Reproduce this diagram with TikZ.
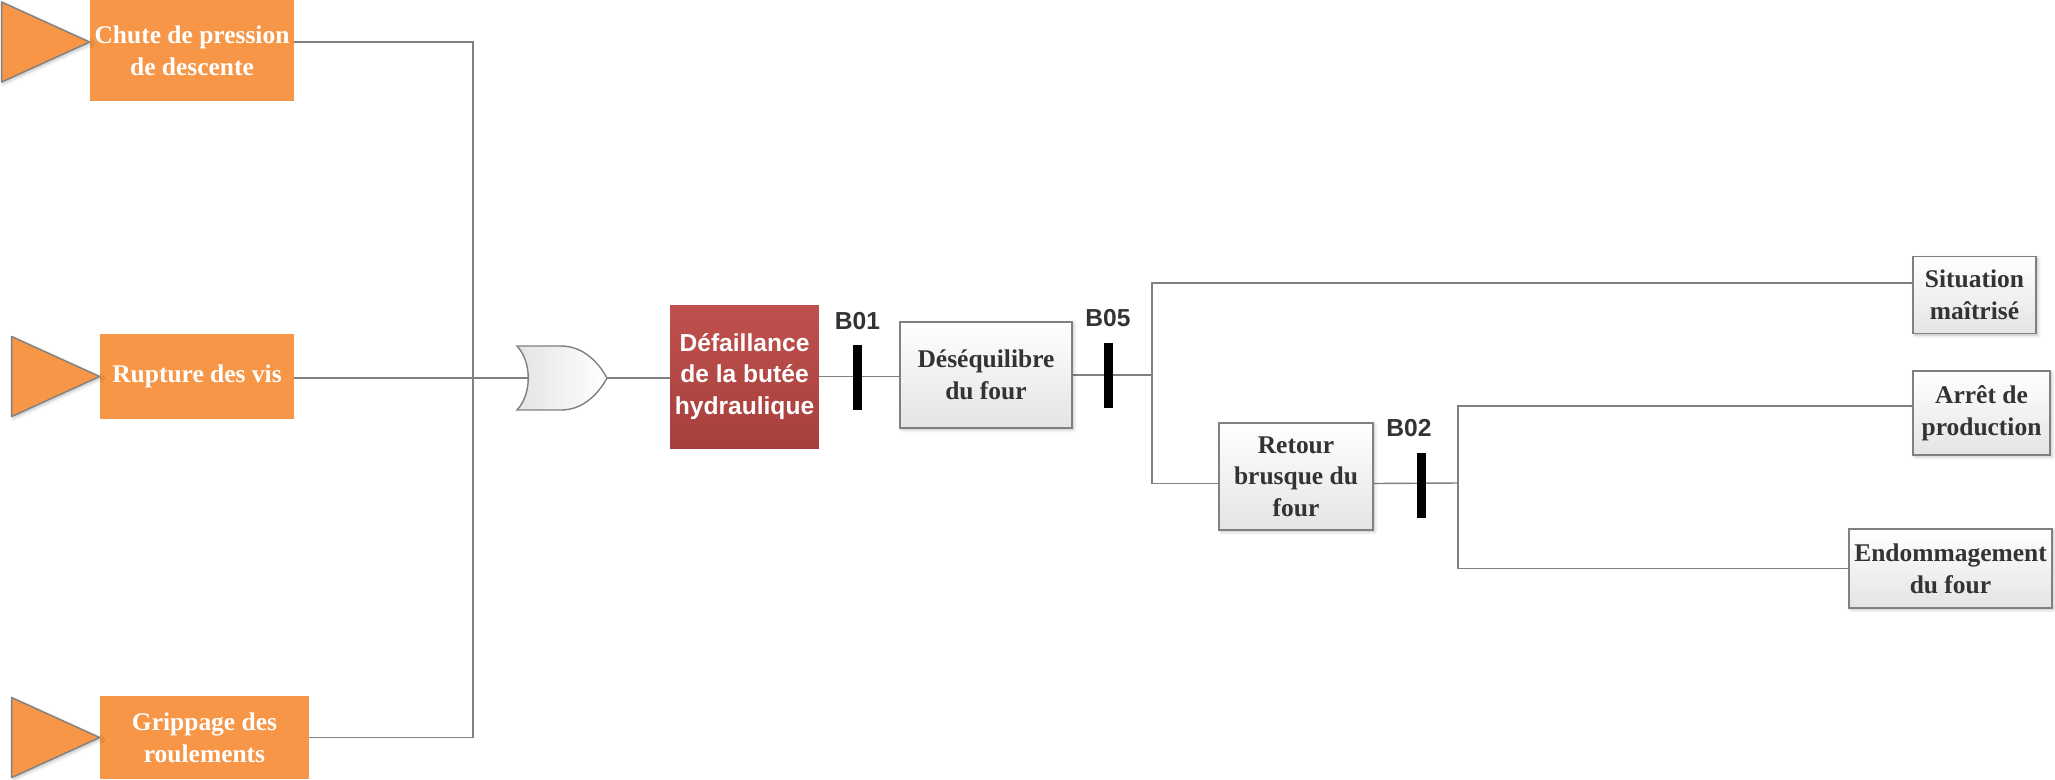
\documentclass[tikz,border=0pt]{standalone}
\usepackage{fontspec}
\setmainfont{Liberation Serif}
\newfontfamily\arialfont{Liberation Sans}
\usetikzlibrary{positioning, backgrounds, shadows.blur}
\definecolor{orangeev}{RGB}{247,150,70}
\definecolor{redtop}{RGB}{192,80,77}
\definecolor{redbot}{RGB}{166,64,61}
\definecolor{wiregray}{RGB}{128,128,128}
\definecolor{txtgray}{RGB}{51,51,51}
\definecolor{boxbot}{RGB}{228,228,228}
\tikzset{
    event/.style={rectangle, fill=orangeev, text=white, align=center, font=\fontsize{14.5}{18}\selectfont\bfseries, inner sep=2pt},
    trig/.style={draw=wiregray, line width=0.8pt, fill=orangeev, line join=round, blur shadow={shadow xshift=1pt, shadow yshift=-1pt, shadow opacity=25, shadow blur steps=4}},
    central/.style={rectangle, top color=redtop, bottom color=redbot, text=white, align=center, font=\arialfont\fontsize{14}{18}\selectfont\bfseries, inner sep=2pt},
    conseq/.style={rectangle, draw=wiregray, line width=0.8pt, top color=white, bottom color=boxbot, text=txtgray, align=center, font=\fontsize{14.5}{18}\selectfont\bfseries, inner sep=2pt, blur shadow={shadow xshift=1pt, shadow yshift=-1pt, shadow opacity=25, shadow blur steps=4}},
    barrier/.style={rectangle, fill=black, minimum width=0.18cm, minimum height=1.3cm, inner sep=0pt},
    blabel/.style={font=\arialfont\fontsize{14}{16}\selectfont\bfseries, text=txtgray, inner sep=0pt, label distance=0.3cm},
    gate/.style={draw=wiregray, line width=0.8pt, left color=boxbot, right color=white},
    wire/.style={draw=wiregray, line width=0.8pt}
}
\begin{document}
\begin{tikzpicture}[x=0.02cm, y=-0.02cm]
    \useasboundingbox (0,0) rectangle (2055,779);
    \node[event, minimum width=4.08cm, minimum height=2.02cm] (chute) at (192,50.5) {Chute de pression\\de descente};
    \node[event, minimum width=3.88cm, minimum height=1.7cm] (rupture) at (197,376.5) {Rupture des vis};
    \node[event, minimum width=4.18cm, minimum height=1.66cm] (grippage) at (204.5,737.5) {Grippage des\\roulements};
    \draw[trig] ([yshift=0.17cm]chute.west) -- ++(-88,-40) -- ++(0,80) -- cycle;
    \draw[trig] (rupture.west) -- ++(-88,-40) -- ++(0,80) -- cycle;
    \draw[trig] (grippage.west) -- ++(-88,-40) -- ++(0,80) -- cycle;
    \coordinate (junc) at (473,378);
    \draw[gate] (517,346) -- (561,346) .. controls (585,346) and (600,365) .. (607,378) .. controls (600,391) and (585,410) .. (561,410) -- (517,410) .. controls (532,394) and (532,362) .. (517,346) -- cycle;
    \coordinate (orin) at (528,378);
    \coordinate (orout) at (607,378);
    \node[central, minimum width=2.98cm, minimum height=2.86cm] (defail) at (744.5,376.5) {Défaillance\\de la butée\\hydraulique};
    \node[barrier, label={[blabel]above:B01}] (b01) at (857.5,377.5) {};
    \node[conseq, minimum width=3.44cm, minimum height=2.12cm] (deseq) at (986,375) {Déséquilibre\\du four};
    \node[barrier, label={[blabel]above:B05}] (b05) at (1108,375) {};
    \coordinate (split1) at (1152,375);
    \node[conseq, minimum width=2.46cm, minimum height=1.54cm] (situation) at (1974.5,295) {Situation\\maîtrisé};
    \node[conseq, minimum width=3.08cm, minimum height=2.14cm] (retour) at (1296,476.5) {Retour\\brusque du\\four};
    \node[barrier, label={[blabel, xshift=-0.24cm]above:B02}] (b02) at (1421,485) {};
    \coordinate (split2) at (1458,483);
    \node[conseq, minimum width=2.74cm, minimum height=1.68cm] (arret) at (1981.5,413) {Arrêt de\\production};
    \node[conseq, minimum width=4.06cm, minimum height=1.58cm] (endom) at (1950.5,568.5) {Endommagement\\du four};
    \begin{scope}[on background layer]
        \draw[wire] ([yshift=0.17cm]chute.east) -| (junc) |- (grippage.east);
        \draw[wire] (rupture.east |- orin) -- (orin);
        \draw[wire] (orout) -- (orout -| defail.west);
        \draw[wire] (defail.east) -- (defail.east -| deseq.west);
        \draw[wire] (deseq.east) -- (split1);
        \draw[wire] ([yshift=0.24cm]situation.west) -| (split1) |- ([yshift=-0.14cm]retour.west);
        \draw[wire] ([yshift=-0.14cm]retour.east) -- (split2);
        \draw[wire] ([yshift=0.14cm]arret.west) -| (split2) |- (endom.west);
    \end{scope}
\end{tikzpicture}
\end{document}
